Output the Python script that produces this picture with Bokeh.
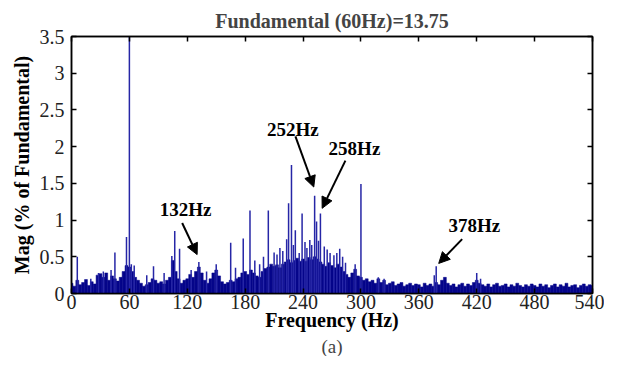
from bokeh.plotting import figure
from bokeh.models import (Range1d, FixedTicker, LinearAxis, Arrow, NormalHead,
                          ColumnDataSource, Title, CustomJSTickFormatter)
from bokeh.core.properties import value
from bokeh.embed import file_html
from bokeh.resources import INLINE

# ---------------- data ----------------
title_text = "Fundamental (60Hz)=13.75"
x_label = "Frequency (Hz)"
y_label = "Mag (% of Fundamental)"
caption = "(a)"

x_ticks = [0, 60, 120, 180, 240, 300, 360, 420, 480, 540]
y_ticks = [0, 0.5, 1, 1.5, 2, 2.5, 3, 3.5]
y_tick_labels = ["0", "0.5", "1", "1.5", "2", "2.5", "3", "3.5"]

# broadband floor, one value every 3 Hz from 0 Hz to 540 Hz
floor_step = 3
floor_mag = [
    0.14, 0.10, 0.18, 0.12, 0.15, 0.19, 0.11, 0.16, 0.13, 0.25, 0.27, 0.22, 0.28, 0.18, 0.24, 0.20, 0.17, 0.22, 0.30, 0.38,
    0.36, 0.30, 0.22, 0.18, 0.14, 0.10, 0.12, 0.15, 0.20, 0.18, 0.14, 0.16, 0.13, 0.18, 0.22, 0.45, 0.30, 0.20, 0.14, 0.18,
    0.20, 0.26, 0.22, 0.30, 0.36, 0.28, 0.18, 0.14, 0.20, 0.28, 0.32, 0.24, 0.16, 0.13, 0.15, 0.18, 0.16, 0.20, 0.22, 0.28,
    0.30, 0.26, 0.32, 0.28, 0.24, 0.22, 0.30, 0.34, 0.36, 0.40, 0.37, 0.39, 0.35, 0.40, 0.43, 0.46, 0.42, 0.45, 0.48, 0.44,
    0.47, 0.44, 0.49, 0.46, 0.50, 0.47, 0.43, 0.40, 0.37, 0.42, 0.38, 0.35, 0.40, 0.36, 0.30, 0.26, 0.22, 0.28, 0.33, 0.24,
    0.22, 0.18, 0.20, 0.16, 0.18, 0.14, 0.20, 0.15, 0.18, 0.12, 0.14, 0.16, 0.11, 0.13, 0.15, 0.10, 0.12, 0.14, 0.11, 0.13,
    0.12, 0.09, 0.14, 0.11, 0.13, 0.10, 0.15, 0.12, 0.18, 0.22, 0.14, 0.11, 0.13, 0.09, 0.12, 0.14, 0.10, 0.13, 0.11, 0.15,
    0.18, 0.14, 0.12, 0.10, 0.13, 0.09, 0.12, 0.14, 0.10, 0.11, 0.13, 0.09, 0.12, 0.10, 0.14, 0.11, 0.09, 0.12, 0.10, 0.13,
    0.11, 0.09, 0.13, 0.10, 0.12, 0.08, 0.11, 0.13, 0.09, 0.12, 0.10, 0.14, 0.09, 0.11, 0.12, 0.08, 0.11, 0.13, 0.10, 0.12, 0.11,
]

# distinct spectral lines (Hz, % of fundamental); the fundamental runs off the top
spike_freq = [6, 20, 28, 33, 41, 45, 57, 60, 62, 65, 78, 85, 96, 104, 107, 112, 124, 132, 140,
              150, 165, 170, 178, 185, 190, 195, 199, 204, 210, 213, 216, 219, 223, 225, 228,
              230, 232, 236, 239, 242, 244, 247, 249, 252, 254, 256, 258, 262, 265, 268, 272,
              275, 278, 281, 284, 294, 300, 318, 324, 376, 378, 420, 424]
spike_mag = [0.50, 0.20, 0.28, 0.30, 0.32, 0.56, 0.77, 100.0, 0.40, 0.38, 0.25, 0.37, 0.28, 0.51, 0.85, 0.61, 0.32, 0.43, 0.30,
             0.40, 0.69, 0.35, 0.75, 1.13, 0.45, 0.40, 0.50, 1.13, 0.56, 0.53, 0.62, 0.58, 0.74, 1.23, 1.75,
             0.66, 0.86, 0.55, 1.09, 0.70, 0.62, 0.73, 0.66, 1.33, 0.98, 0.72, 1.09, 0.64, 0.60, 0.55, 0.52,
             0.55, 0.61, 0.50, 0.42, 0.40, 1.49, 0.22, 0.20, 0.25, 0.37, 0.28, 0.20]

# annotations: label text, label position, arrow start and end (data units)
ann_text = ["132Hz", "252Hz", "258Hz", "378Hz"]
ann_x = [118.2, 229.5, 293.3, 417.6]
ann_y = [1.14, 2.24, 1.97, 0.92]
arr_x0 = [114.7, 232.1, 283.9, 404.9]
arr_y0 = [0.96, 2.14, 1.81, 0.74]
arr_x1 = [130.2, 251.1, 259.8, 380.6]
arr_y1 = [0.53, 1.45, 1.16, 0.41]

# ---------------- figure ----------------
FONT = "Liberation Serif"
NAVY = "#05058a"
SPIKE = "#2626a6"

p = figure(width=604, height=356, output_backend="svg", toolbar_location=None,
           x_range=Range1d(0, 540), y_range=Range1d(0, 3.5),
           min_border_left=71, min_border_right=12, min_border_top=36, min_border_bottom=40)
p.grid.visible = False
p.background_fill_color = "white"
p.outline_line_color = "black"
p.outline_line_width = 1.5

p.title.text = title_text
p.title.align = "center"
p.title.text_font = FONT
p.title.text_font_size = "20px"
p.title.text_font_style = "bold"
p.title.standoff = 9

floor_freq = [floor_step * i for i in range(len(floor_mag))]
p.vbar(x=floor_freq, top=floor_mag, bottom=0, width=floor_step,
       fill_color=NAVY, line_color=NAVY, line_width=0.5)
p.segment(x0=spike_freq, y0=[0] * len(spike_freq), x1=spike_freq, y1=spike_mag,
          line_color=SPIKE, line_width=1.5)

def style_axis(ax, labels=True):
    ax.axis_line_color = "black"
    ax.axis_line_width = 1.5
    ax.major_tick_in = 5
    ax.major_tick_out = 0
    ax.minor_tick_line_color = None
    ax.major_tick_line_color = "black"
    ax.major_tick_line_width = 1.5
    if labels:
        ax.major_label_text_font = FONT
        ax.major_label_text_font_size = "20px"
        ax.major_label_text_color = "#222222"
        ax.axis_label_text_font = FONT
        ax.axis_label_text_font_size = "20px"
        ax.axis_label_text_font_style = "bold"
        ax.axis_label_text_color = "black"
    else:
        ax.formatter = CustomJSTickFormatter(code="return ''")
        ax.major_label_text_font_size = "1px"
        ax.major_label_standoff = 0

xa = p.xaxis[0]
xa.ticker = FixedTicker(ticks=x_ticks)
xa.axis_label = x_label
style_axis(xa)
xa.major_label_standoff = 1
xa.axis_label_standoff = -3

ya = p.yaxis[0]
ya.ticker = FixedTicker(ticks=y_ticks)
ya.major_label_overrides = {t: s for t, s in zip(y_ticks, y_tick_labels)}
ya.axis_label = y_label
style_axis(ya)
ya.major_label_standoff = 7
ya.axis_label_standoff = 4

top_ax = LinearAxis(ticker=FixedTicker(ticks=x_ticks))
style_axis(top_ax, labels=False)
p.add_layout(top_ax, "above")
right_ax = LinearAxis(ticker=FixedTicker(ticks=y_ticks))
style_axis(right_ax, labels=False)
p.add_layout(right_ax, "right")

cap = Title(text=caption, align="center", text_font=FONT, text_font_size="19px",
            text_font_style="normal", standoff=0)
p.add_layout(cap, "below")

src = ColumnDataSource(dict(x=ann_x, y=ann_y, t=ann_text))
p.text(x="x", y="y", text="t", source=src, text_font=value(FONT),
       text_font_style="bold", text_font_size="19px", text_align="center",
       text_baseline="middle", text_color="black")

for xs, ys, xe, ye in zip(arr_x0, arr_y0, arr_x1, arr_y1):
    p.add_layout(Arrow(end=NormalHead(size=11, fill_color="black", line_color="black"),
                       x_start=xs, y_start=ys, x_end=xe, y_end=ye,
                       line_color="black", line_width=2))

open("out.html", "w").write(file_html(p, INLINE))
